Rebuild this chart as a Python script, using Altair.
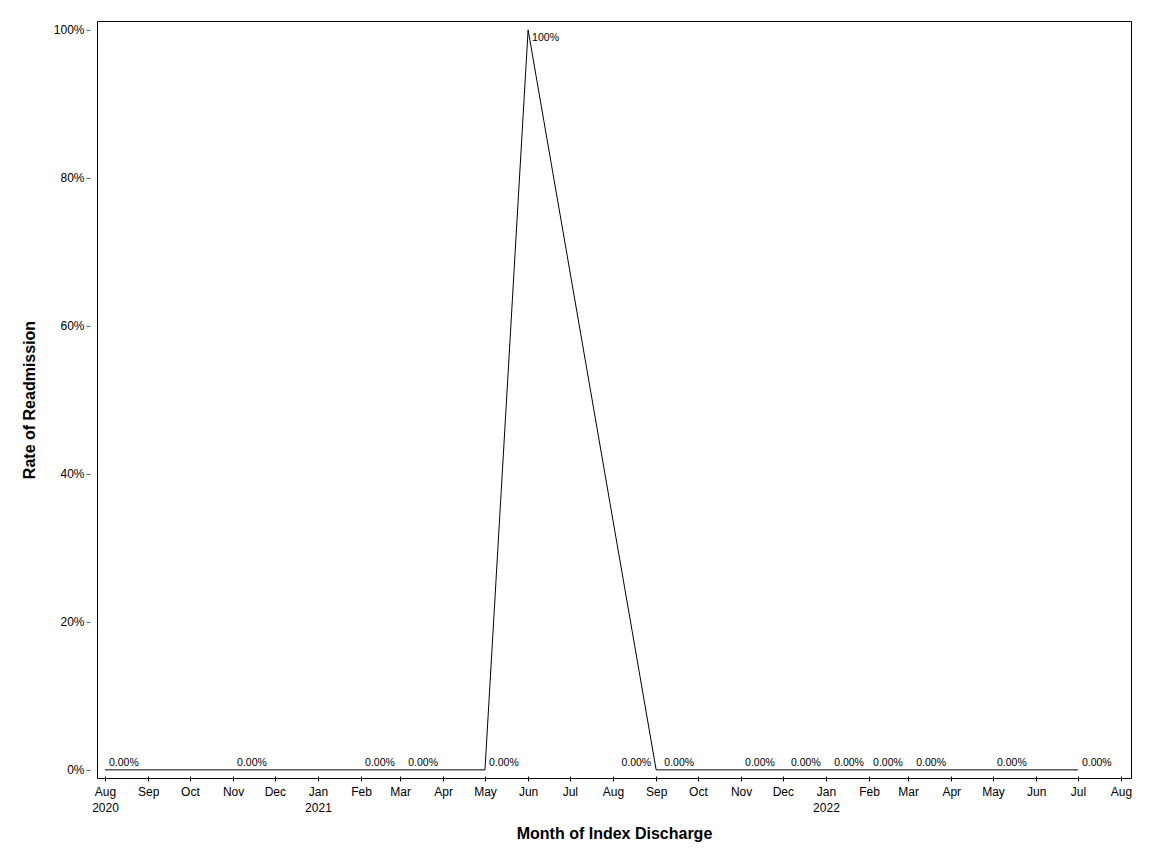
import altair as alt
import pandas as pd

dates = ["2020-08-01", "2020-11-01", "2021-02-01", "2021-03-04", "2021-05-01",
         "2021-06-01", "2021-09-01", "2021-09-04", "2021-11-01", "2021-12-04",
         "2022-01-04", "2022-02-01", "2022-03-04", "2022-05-01", "2022-07-01"]
rates = [0.0, 0.0, 0.0, 0.0, 0.0, 1.0, 0.0, 0.0, 0.0, 0.0, 0.0, 0.0, 0.0, 0.0, 0.0]
rate_labels = ["0.00%", "0.00%", "0.00%", "0.00%", "0.00%", "100%", "0.00%", "0.00%",
               "0.00%", "0.00%", "0.00%", "0.00%", "0.00%", "0.00%", "0.00%"]
y_ticks = [0.0, 0.2, 0.4, 0.6, 0.8, 1.0]
tick_months = [(2020, m) for m in range(8, 13)] + [(2021, m) for m in range(1, 13)] + \
              [(2022, m) for m in range(1, 9)]

df = pd.DataFrame({"date": [d + "T00:00:00" for d in dates], "rate": rates, "label": rate_labels})

FONT = "Liberation Sans"

x_enc = alt.X(
    "date:T",
    title="Month of Index Discharge",
    scale=alt.Scale(domain=[alt.DateTime(year=2020, month=7, date=26, hours=6),
                            alt.DateTime(year=2022, month=8, date=8, hours=4)]),
    axis=alt.Axis(
        values=[alt.DateTime(year=y, month=m, date=1) for (y, m) in tick_months],
        labelExpr="(month(datum.value) == 0 || (year(datum.value) == 2020 && month(datum.value) == 7)) ? [timeFormat(datum.value, '%b'), timeFormat(datum.value, '%Y')] : timeFormat(datum.value, '%b')",
        domain=False, grid=False, offset=-2, tickSize=5, tickColor="black", tickWidth=1,
        labelFont=FONT, labelFontSize=12, labelColor="black", labelPadding=5,
        labelLineHeight=16, labelOverlap=False, labelFlush=False, labelBound=False,
        titleFont=FONT, titleFontSize=16, titleFontWeight="bold", titleColor="black",
        titlePadding=12,
    ),
)
y_enc = alt.Y(
    "rate:Q",
    title="Rate of Readmission",
    scale=alt.Scale(domain=[-0.011, 1.012], nice=False, zero=False),
    axis=alt.Axis(
        values=y_ticks, format=".0%", domain=False, grid=False, offset=7, tickSize=4,
        tickColor="#666666", labelFont=FONT, labelFontSize=12, labelColor="black",
        labelPadding=2, titleFont=FONT, titleFontSize=16, titleFontWeight="bold",
        titleColor="black", titlePadding=16,
    ),
)

base = alt.Chart(df)
line = base.mark_line(color="black", strokeWidth=1).encode(x=x_enc, y=y_enc)

is_left = "time(datum.date) == time(datetime(2021, 8, 1))"
low_right = base.transform_filter(f"datum.rate < 0.5 && !({is_left})").mark_text(
    align="left", baseline="alphabetic", dx=4, dy=-4, font=FONT, fontSize=10.5, color="black"
).encode(x="date:T", y="rate:Q", text="label:N")
low_left = base.transform_filter(f"datum.rate < 0.5 && ({is_left})").mark_text(
    align="right", baseline="alphabetic", dx=-5, dy=-4, font=FONT, fontSize=10.5, color="black"
).encode(x="date:T", y="rate:Q", text="label:N")
high = base.transform_filter("datum.rate >= 0.5").mark_text(
    align="left", baseline="alphabetic", dx=4, dy=11, font=FONT, fontSize=10.5, color="black"
).encode(x="date:T", y="rate:Q", text="label:N")

chart = alt.layer(line, low_right, low_left, high).properties(
    width=1034, height=757,
    autosize=alt.AutoSizeParams(type="none"),
    padding={"left": 89, "top": 13, "right": 10, "bottom": 70},
    background="white",
).configure_view(stroke="black", strokeWidth=1)

chart.save("out.html", embed_options={"renderer": "svg", "actions": False})
